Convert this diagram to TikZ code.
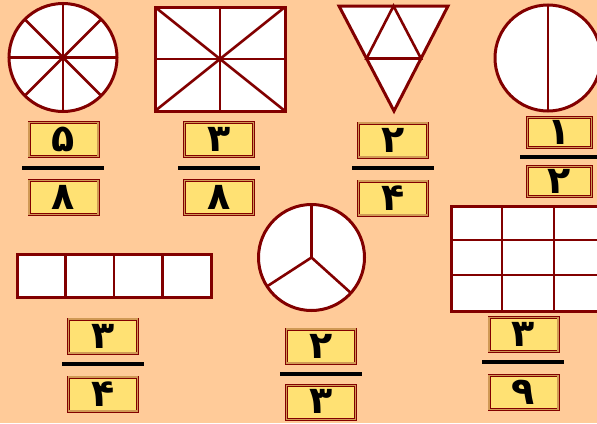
\documentclass[tikz,border=0pt]{standalone}
\usepackage{fontspec}
\usetikzlibrary{calc}
\newfontfamily\digitfont[Script=Arabic]{DejaVu Sans}
\definecolor{bgpeach}{HTML}{FFCB99}
\definecolor{dred}{HTML}{820000}
\definecolor{boxyellow}{HTML}{FFE173}
\definecolor{boxtan}{HTML}{D09A55}
\tikzset{
  figshape/.style={draw=dred, line width=3pt, fill=white, line join=miter},
  divline/.style={draw=dred, line width=2.6pt},
  fracbar/.style={draw=black, line width=4pt},
  numbox/.style={draw=dred, double=boxtan, double distance=1.6pt, line width=0.7pt,
    fill=boxyellow, minimum width=69pt, minimum height=34pt, inner sep=0pt},
  digit/.style={inner sep=0pt, font=\digitfont\bfseries\fontsize{38}{38}\selectfont},
}
\begin{document}
\begin{tikzpicture}[x=1pt,y=-1pt]
\fill[bgpeach] (0,0) rectangle (597,423);
\useasboundingbox (0,0) rectangle (597,423);
\clip (0,0) rectangle (597,423);

% circle in eighths
\coordinate (ca) at (63,57.5);
\draw[figshape] (ca) circle[radius=54];
\foreach \a in {0,45,90,135}
  \draw[divline] ($(ca)+(\a:54)$) -- ($(ca)+(\a+180:54)$);

% rectangle in eighths
\draw[figshape] (155,7) rectangle (285,111);
\draw[divline] (220,7) -- (220,111);
\draw[divline] (155,59) -- (285,59);
\draw[divline] (155,7) -- (285,111);
\draw[divline] (155,111) -- (285,7);

% triangle in quarters
\draw[figshape] (339,6) -- (448,6) -- (394,111) -- cycle;
\draw[divline] (393.5,6) -- (366.5,58.5) -- (421,58.5) -- cycle;

% half circle
\coordinate (cd) at (548,58);
\draw[figshape] (cd) circle[radius=53];
\draw[divline] (548,5) -- (548,111);

% strip in quarters
\draw[figshape] (17,254) rectangle (211,297);
\foreach \x in {65.5,114,162.5}
  \draw[divline] (\x,254) -- (\x,297);

% circle in thirds
\coordinate (cf) at (311.5,257.5);
\draw[figshape] (cf) circle[radius=53];
\draw[divline] (cf) -- ($(cf)+(-90:53)$);
\draw[divline] (cf) -- ($(cf)+(147:53)$);
\draw[divline] (cf) -- ($(cf)+(42:53)$);

% grid in ninths
\draw[figshape] (451,206) rectangle (606,311);
\foreach \x in {502,554}
  \draw[divline] (\x,206) -- (\x,311);
\foreach \y in {240,275}
  \draw[divline] (451,\y) -- (606,\y);

% fractions
\node[numbox] (n1) at (63.5,139.5) {};
\node[digit] at (n1.center) {۵};
\draw[fracbar] (22,168) -- (104,168);
\node[numbox] (d1) at (63.5,197.5) {};
\node[digit] at (d1.center) {۸};

\node[numbox] (n2) at (219,139.5) {};
\node[digit] at (n2.center) {۳};
\draw[fracbar] (178,168) -- (260,168);
\node[numbox] (d2) at (219,197.5) {};
\node[digit] at (d2.center) {۸};

\node[numbox] (n3) at (393,140) {};
\node[digit] at (n3.center) {۲};
\draw[fracbar] (352,168) -- (434,168);
\node[numbox] (d3) at (393,198) {};
\node[digit] at (d3.center) {۴};

\node[numbox, minimum width=64pt, minimum height=30pt] (n4) at (559.5,132.5) {};
\node[digit] at (n4.center) {۱};
\draw[fracbar] (520,157) -- (600,157);
\node[numbox, minimum width=64pt, minimum height=30pt] (d4) at (559.5,181.5) {};
\node[digit] at (d4.center) {۲};

\node[numbox] (n5) at (103,336) {};
\node[digit] at (n5.center) {۳};
\draw[fracbar] (62,364) -- (144,364);
\node[numbox] (d5) at (103,394) {};
\node[digit] at (d5.center) {۴};

\node[numbox] (n6) at (321,346) {};
\node[digit] at (n6.center) {۲};
\draw[fracbar] (280,374) -- (362,374);
\node[numbox] (d6) at (321,402.5) {};
\node[digit] at ($(d6.center)+(0,-1.5)$) {۳};

\node[numbox] (n7) at (523.5,334.5) {};
\node[digit] at (n7.center) {۳};
\draw[fracbar] (482,362) -- (564,362);
\node[numbox] (d7) at (523.5,392.5) {};
\node[digit] at (d7.center) {۹};
\end{tikzpicture}
\end{document}
